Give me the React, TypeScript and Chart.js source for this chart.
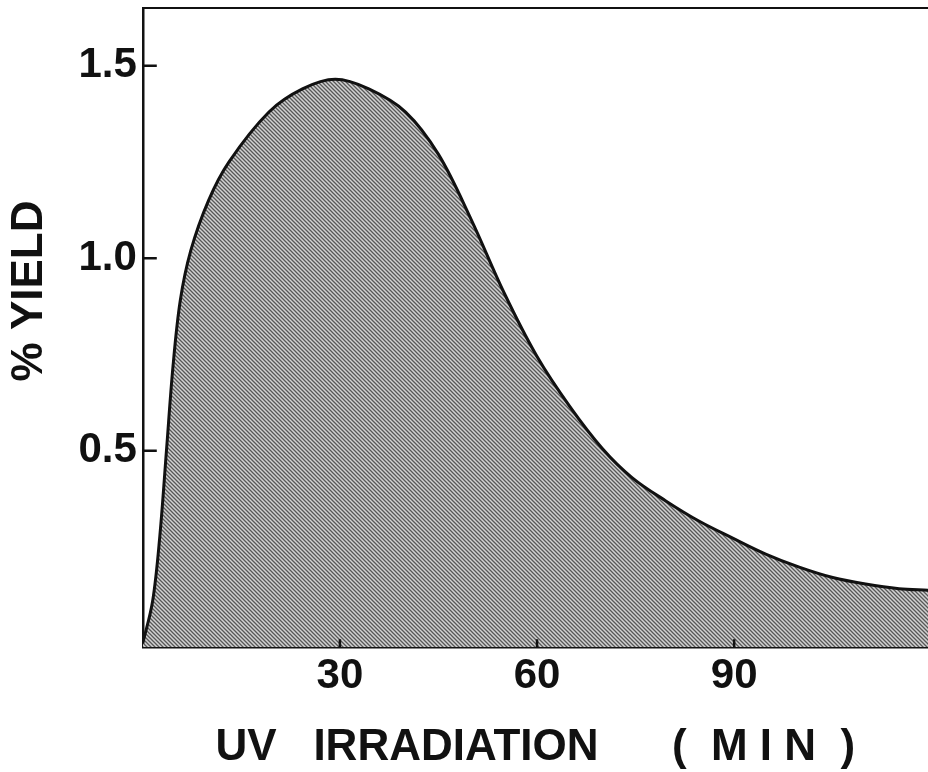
import React, { useEffect, useRef } from "react";
import { Chart, registerables } from "chart.js";

Chart.register(...registerables);

// UV irradiation time (min)
const timeMin = [
  0, 1.5, 2.6, 3.6, 4.6, 5.7, 7.3, 10.0, 13.1, 19.2, 24.3, 29.3, 34.4, 40.0,
  45.0, 50.0, 55.0, 60.0, 65.0, 70.0, 74.5, 79.6, 84.7, 89.7, 94.8, 99.9,
  105.0, 110.0, 115.1, 119.5,
];
// % yield
const yieldPct = [
  0, 0.11, 0.28, 0.5, 0.72, 0.89, 1.02, 1.15, 1.25, 1.38, 1.44, 1.465, 1.44,
  1.38, 1.27, 1.1, 0.91, 0.745, 0.615, 0.505, 0.43, 0.37, 0.317, 0.274, 0.232,
  0.198, 0.171, 0.154, 0.142, 0.138,
];

const xTickValues = [30, 60, 90];
const yTickValues = [0.5, 1.0, 1.5];
const xTitle = "UV   IRRADIATION      (  M I N  )";
const yTitle = "      % YIELD";

const FONT = "'Liberation Sans', Arial, Helvetica, sans-serif";

function makeHatch(): CanvasPattern | string {
  const c = document.createElement("canvas");
  c.width = 4;
  c.height = 4;
  const g = c.getContext("2d");
  if (!g) return "#a0a0a0";
  g.fillStyle = "#d2d2d2";
  g.fillRect(0, 0, 4, 4);
  g.strokeStyle = "#585858";
  g.lineWidth = 1.3;
  g.beginPath();
  g.moveTo(-1, -1);
  g.lineTo(5, 5);
  g.moveTo(-5, -1);
  g.lineTo(1, 5);
  g.moveTo(3, -1);
  g.lineTo(9, 5);
  g.stroke();
  const p = g.createPattern(c, "repeat");
  return p || "#a0a0a0";
}

const frameAndTicks = {
  id: "frameAndTicks",
  afterDatasetsDraw(chart: any) {
    const { ctx, chartArea, scales } = chart;
    ctx.save();
    ctx.strokeStyle = "#111";
    ctx.lineWidth = 2.5;
    ctx.beginPath();
    for (const v of yTickValues) {
      const py = scales.y.getPixelForValue(v);
      ctx.moveTo(chartArea.left, py);
      ctx.lineTo(chartArea.left + 14, py);
    }
    for (const v of xTickValues) {
      const px = scales.x.getPixelForValue(v);
      ctx.moveTo(px, chartArea.bottom);
      ctx.lineTo(px, chartArea.bottom - 8);
    }
    ctx.stroke();
    ctx.lineWidth = 2;
    ctx.beginPath();
    ctx.moveTo(chartArea.left, chartArea.top);
    ctx.lineTo(chartArea.right, chartArea.top);
    ctx.stroke();
    ctx.restore();
  },
};

export default function App() {
  const ref = useRef<HTMLCanvasElement | null>(null);

  useEffect(() => {
    if (!ref.current) return;
    const points = timeMin.map((t, i) => ({ x: t, y: yieldPct[i] }));
    const chart = new Chart(ref.current, {
      type: "line",
      data: {
        datasets: [
          {
            data: points,
            borderColor: "#111",
            borderWidth: 3,
            pointRadius: 0,
            tension: 0.35,
            fill: "start",
            backgroundColor: makeHatch() as any,
          },
        ],
      },
      options: {
        animation: false,
        responsive: true,
        maintainAspectRatio: false,
        layout: { padding: { top: 4, right: 0, left: 0, bottom: 0 } },
        plugins: {
          legend: { display: false },
          tooltip: { enabled: false },
        },
        scales: {
          x: {
            type: "linear",
            position: "bottom",
            min: 0,
            max: 119.5,
            afterBuildTicks: (s: any) => {
              s.ticks = xTickValues.map((v) => ({ value: v }));
            },
            grid: { display: false, drawTicks: false },
            border: { display: true, color: "#111", width: 2.5 },
            ticks: {
              color: "#111",
              padding: 4,
              maxRotation: 0,
              font: { family: FONT, size: 42, weight: "bold", lineHeight: 1.2 },
              callback: (v: any) => String(v),
            },
            title: {
              display: true,
              text: xTitle,
              color: "#111",
              font: { family: FONT, size: 44, weight: "bold", lineHeight: 1.1 },
              padding: { top: 18, bottom: 0 },
            },
          },
          y: {
            type: "linear",
            min: -0.01,
            max: 1.65,
            afterBuildTicks: (s: any) => {
              s.ticks = yTickValues.map((v) => ({ value: v }));
            },
            grid: { display: false, drawTicks: false },
            border: { display: true, color: "#111", width: 2.5 },
            ticks: {
              color: "#111",
              padding: 6,
              font: { family: FONT, size: 42, weight: "bold", lineHeight: 0.1 },
              callback: (v: any) => Number(v).toFixed(1),
            },
            title: {
              display: true,
              text: yTitle,
              color: "#111",
              font: { family: FONT, size: 44, weight: "bold", lineHeight: 1.1 },
              padding: { top: 6, bottom: 18 },
            },
          },
        },
      },
      plugins: [frameAndTicks],
    });
    return () => chart.destroy();
  }, []);

  return (
    <div
      style={{
        position: "fixed",
        left: 0,
        top: 0,
        width: 928,
        height: 772,
        background: "#fff",
      }}
    >
      <canvas ref={ref} />
    </div>
  );
}
